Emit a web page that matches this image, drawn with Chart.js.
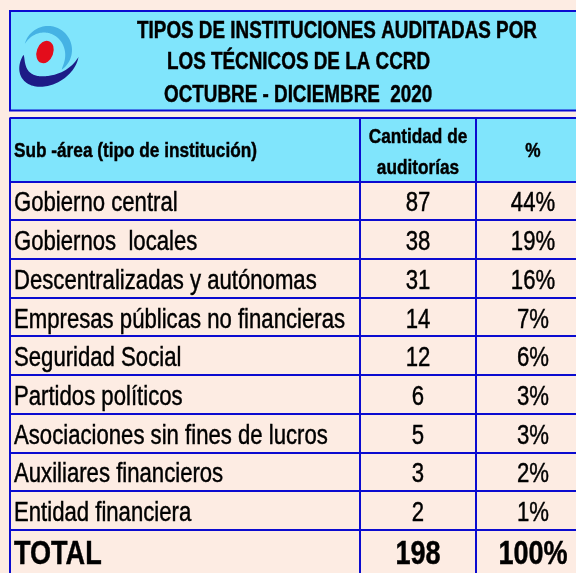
<!DOCTYPE html>
<html>
<head>
<meta charset="utf-8">
<script src="https://cdn.jsdelivr.net/npm/chart.js@4.4.1/dist/chart.umd.min.js"></script>
<style>
  html, body { margin: 0; padding: 0; background: #fdece3; overflow: hidden; width: 576px; height: 573px; }
  canvas { display: block; }
</style>
</head>
<body>
<canvas id="tabla" width="600" height="600"></canvas>
<script>
// ---------------- DATA ----------------
const TITLE_LINES = [
  "TIPOS DE INSTITUCIONES AUDITADAS POR",
  "LOS TÉCNICOS DE LA CCRD",
  "OCTUBRE - DICIEMBRE  2020",
];
const HEADER_AREA = "Sub -área (tipo de institución)";
const HEADER_COUNT = ["Cantidad de", "auditorías"];
const HEADER_PCT = "%";

const categories = [
  "Gobierno central",
  "Gobiernos  locales",
  "Descentralizadas y autónomas",
  "Empresas públicas no financieras",
  "Seguridad Social",
  "Partidos políticos",
  "Asociaciones sin fines de lucros",
  "Auxiliares financieros",
  "Entidad financiera",
];
const counts = [87, 38, 31, 14, 12, 6, 5, 3, 2];
const percents = ["44%", "19%", "16%", "7%", "6%", "3%", "3%", "2%", "1%"];
const totalLabel = "TOTAL";
const totalCount = 198;
const totalPct = "100%";

// ---------------- LAYOUT ----------------
const W = 600, H = 600;
const PAD_LEFT = 10, PAD_BOTTOM = 10;
const TITLE_TOP = 11, TITLE_BOTTOM = 110.5;
const TABLE_TOP = 117.5;
const ROW_PX = 38.72, HEADER_PX = 64;
const COL_EDGES = [0, 350, 466, 580];
const Y_MIN = -HEADER_PX / ROW_PX;
const Y_MAX = Y_MIN + (H - PAD_BOTTOM - TABLE_TOP) / ROW_PX;

const BG = "#fdece3";
const CYAN = "#80e5fc";
const BLUE = "#0b0bd0";
const INK = "#000000";

// Arial Narrow look: real narrow font if installed, else squeeze Liberation Sans
function hasFont(name) {
  const c = document.createElement("canvas").getContext("2d");
  const s = "abcdefghijkLMNOP0123%";
  c.font = "20px monospace";
  const a = c.measureText(s).width;
  c.font = `20px "${name}", monospace`;
  return c.measureText(s).width !== a;
}
const NARROW = hasFont("Liberation Sans Narrow");
const FAMILY = NARROW ? '"Liberation Sans Narrow"' : '"Liberation Sans", Arial, sans-serif';
const SQUEEZE = NARROW ? 1 : 0.82;

function text(ctx, str, x, y, size, bold, align) {
  ctx.save();
  ctx.translate(x, y);
  ctx.scale(SQUEEZE, 1);
  ctx.font = `${bold ? "bold " : ""}${size}px ${FAMILY}`;
  ctx.fillStyle = INK;
  ctx.strokeStyle = INK;
  ctx.lineWidth = 0.45;
  ctx.textAlign = align || "left";
  ctx.textBaseline = "alphabetic";
  ctx.fillText(str, 0, 0);
  ctx.strokeText(str, 0, 0);
  ctx.restore();
}

// tapered arc along an (optionally rotated) ellipse
function swoosh(ctx, cx, cy, rx, ry, rot, a1, a2, thick, p, fill) {
  const N = 60;
  const r1 = (a1 * Math.PI) / 180, r2 = (a2 * Math.PI) / 180;
  ctx.save();
  ctx.translate(cx, cy);
  ctx.rotate((rot * Math.PI) / 180);
  ctx.beginPath();
  for (let k = 0; k <= N; k++) {
    const t = r1 + ((r2 - r1) * k) / N;
    ctx.lineTo(rx * Math.cos(t), ry * Math.sin(t));
  }
  for (let k = N; k >= 0; k--) {
    const s = k / N;
    const t = r1 + (r2 - r1) * s;
    const th = thick * Math.pow(Math.sin(Math.PI * Math.pow(s, p)), 0.7);
    ctx.lineTo((rx - th) * Math.cos(t), (ry - th) * Math.sin(t));
  }
  ctx.closePath();
  ctx.fillStyle = fill;
  ctx.fill();
  ctx.restore();
}

function drawLogo(ctx) {
  const g = ctx.createLinearGradient(25, 28, 72, 68);
  g.addColorStop(0, "#45b2e4");
  g.addColorStop(1, "#1a72c0");
  swoosh(ctx, 48, 50, 24, 24, 0, -165, 55, 8.5, 1.23, g);
  const n = ctx.createLinearGradient(20, 60, 78, 80);
  n.addColorStop(0, "#1d1b86");
  n.addColorStop(1, "#2534a6");
  swoosh(ctx, 49, 61, 32, 23, -32, 32, 235, 11, 1.25, n);
  ctx.save();
  ctx.fillStyle = "#e30d1b";
  ctx.beginPath();
  ctx.ellipse(45, 52, 8.3, 11.5, 0.35, 0, Math.PI * 2);
  ctx.fill();
  ctx.restore();
}

const tablePlugin = {
  id: "tabla",
  beforeDraw(chart) {
    const { ctx, scales: { x, y } } = chart;
    const left = x.getPixelForValue(COL_EDGES[0]);
    const right = x.getPixelForValue(COL_EDGES[COL_EDGES.length - 1]);
    ctx.save();
    ctx.fillStyle = BG;
    ctx.fillRect(0, 0, W, H);
    // title box
    ctx.fillStyle = CYAN;
    ctx.fillRect(left, TITLE_TOP, right - left, TITLE_BOTTOM - TITLE_TOP);
    ctx.strokeStyle = BLUE;
    ctx.lineWidth = 2;
    ctx.strokeRect(left, TITLE_TOP, right - left, TITLE_BOTTOM - TITLE_TOP);
    // header band
    const hTop = y.getPixelForValue(Y_MIN);
    const hBot = y.getPixelForValue(0);
    ctx.fillStyle = CYAN;
    ctx.fillRect(left, hTop, right - left, hBot - hTop);
    ctx.restore();
    drawLogo(ctx);
  },
  afterDraw(chart) {
    const { ctx, scales: { x, y } } = chart;
    const textX = x.getPixelForValue(COL_EDGES[0]) + 4;
    const midCount = x.getPixelForValue((COL_EDGES[1] + COL_EDGES[2]) / 2);
    const midPct = x.getPixelForValue((COL_EDGES[2] + COL_EDGES[3]) / 2);

    // title
    text(ctx, TITLE_LINES[0], 337, 38, 23, true, "center");
    text(ctx, TITLE_LINES[1], 167, 69, 23, true, "left");
    text(ctx, TITLE_LINES[2], 164, 102, 23, true, "left");

    // header
    const hMid = y.getPixelForValue(Y_MIN / 2);
    text(ctx, HEADER_AREA, textX, hMid + 7.5, 21, true, "left");
    text(ctx, HEADER_COUNT[0], midCount, hMid - 6.2, 21, true, "center");
    text(ctx, HEADER_COUNT[1], midCount, hMid + 24.8, 21, true, "center");
    text(ctx, HEADER_PCT, midPct, hMid + 7.5, 21, true, "center");

    // body rows
    categories.forEach((cat, i) => {
      const yb = y.getPixelForValue(i + 0.5) + 10.5;
      text(ctx, cat, textX, yb, 27, false, "left");
      text(ctx, String(counts[i]), midCount, yb, 27, false, "center");
      text(ctx, percents[i], midPct, yb, 27, false, "center");
    });

    // total row
    const yt = y.getPixelForValue(categories.length + 0.5) + 14.5;
    text(ctx, totalLabel, textX, yt, 33, true, "left");
    text(ctx, String(totalCount), midCount, yt, 33, true, "center");
    text(ctx, totalPct, midPct, yt, 33, true, "center");
  },
};

const rowLines = [Y_MIN].concat(categories.map((_, i) => i), [categories.length]);

new Chart(document.getElementById("tabla"), {
  type: "scatter",
  data: { datasets: [] },
  options: {
    responsive: false,
    animation: false,
    devicePixelRatio: 1,
    layout: { padding: { left: PAD_LEFT, top: TABLE_TOP, right: W - PAD_LEFT - COL_EDGES[3], bottom: PAD_BOTTOM } },
    plugins: { legend: { display: false }, tooltip: { enabled: false } },
    scales: {
      x: {
        type: "linear",
        min: COL_EDGES[0],
        max: COL_EDGES[COL_EDGES.length - 1],
        ticks: { display: false },
        border: { display: false },
        grid: { color: BLUE, lineWidth: 2, drawTicks: false },
        afterBuildTicks: (s) => { s.ticks = COL_EDGES.map((v) => ({ value: v })); },
      },
      y: {
        type: "linear",
        reverse: true,
        min: Y_MIN,
        max: Y_MAX,
        ticks: { display: false },
        border: { display: false },
        grid: { color: BLUE, lineWidth: 2, drawTicks: false },
        afterBuildTicks: (s) => { s.ticks = rowLines.map((v) => ({ value: v })); },
      },
    },
  },
  plugins: [tablePlugin],
});
</script>
</body>
</html>
